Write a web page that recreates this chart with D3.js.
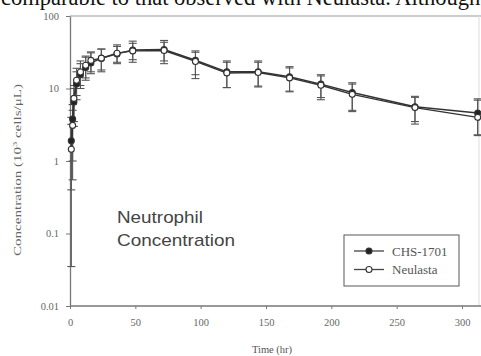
<!DOCTYPE html>
<html><head><meta charset="utf-8">
<script src="https://cdn.jsdelivr.net/npm/d3@7"></script>
<style>body{margin:0;background:#fff}svg{display:block}</style>
</head><body>
<svg id="c" width="481" height="356"></svg>
<script>
const times = [1, 2, 3, 5, 8, 12, 16, 24, 36, 48, 72, 96, 120, 144, 168, 192, 216, 264, 312];
const neulasta = [1.45, 3.1, 7.3, 13, 16.9, 20.9, 24.4, 26.2, 30.7, 33, 33.4, 23.6, 16.4, 16.6, 14, 11.1, 8.3, 5.45, 4.0];
const neulastaHigh = [3.2, 5, 11, 19, 24, 28, 32, 35, 40, 42, 43.4, 31.6, 23, 23, 19.2, 14.9, 11.5, 7.55, 6.9];
const neulastaLow = [0.035, 0.55, 3.5, 8, 11, 14, 17, 18, 22, 23, 22, 15.5, 10.3, 10.5, 9, 7.5, 5, 3.5, 2.3];
const chs = [1.9, 3.8, 6.5, 11.5, 15.5, 19.5, 22.5, 26, 30, 34, 34.5, 24.5, 17, 17, 14.5, 11.5, 8.8, 5.6, 4.6];
const chsHigh = [4, 6, 10, 17, 22, 27, 31, 35, 38, 45, 46, 33, 24, 24, 20, 15.5, 12, 7.8, 7.2];
const chsLow = [0.4, 1.0, 3, 7, 10, 13, 16, 17, 23, 25, 24, 13.7, 10.3, 10.8, 9.2, 7, 4.8, 3.23, 2.24];
const xTicks = [0, 50, 100, 150, 200, 250, 300];
const yTicks = [0.01, 0.1, 1, 10, 100];
const yTickLabels = ["0.01", "0.1", "1", "10", "100"];
const seriesNames = ["CHS-1701", "Neulasta"];
const topText = "comparable to that observed with Neulasta. Although";
const annot = ["Neutrophil", "Concentration"];

const svg = d3.select("#c");
const x = d3.scaleLinear().domain([0, 313]).range([70, 479]);
const y = d3.scaleLog().domain([0.01, 100]).range([306, 16]);
const serif = "'Liberation Serif','Times New Roman',serif";

// top document text (cut off at the top edge, as in the source page)
svg.append("text").attr("x", 1).attr("y", 5).attr("font-family", serif)
  .attr("font-size", 22.5).attr("fill", "#111").text(topText);

// frame lines
svg.append("line").attr("x1", 70).attr("x2", 481).attr("y1", 16).attr("y2", 16)
  .attr("stroke", "#999").attr("stroke-width", 1.2);
svg.append("line").attr("x1", 479).attr("x2", 479).attr("y1", 16).attr("y2", 306)
  .attr("stroke", "#ddd").attr("stroke-width", 1);

// axes
const xAxis = svg.append("g").attr("transform", "translate(0,306)")
  .call(d3.axisBottom(x).tickValues(xTicks).tickSize(3).tickPadding(10).tickSizeOuter(0));
xAxis.select(".domain").attr("d", "M70,0H481");
const yAxis = svg.append("g").attr("transform", "translate(70,0)")
  .call(d3.axisLeft(y).tickValues(yTicks).tickFormat((d, i) => yTickLabels[i]).tickSize(4).tickPadding(7).tickSizeOuter(0));
svg.selectAll(".domain").attr("stroke", "#777").attr("stroke-width", 1.3);
svg.selectAll(".tick line").attr("stroke", "#777");
svg.selectAll(".tick text").attr("font-family", serif).attr("font-size", 10.5).attr("fill", "#666");

// axis titles
svg.append("text").attr("x", 272).attr("y", 353).attr("text-anchor", "middle")
  .attr("font-family", serif).attr("font-size", 10.5).attr("fill", "#555").text("Time (hr)");
const yl = svg.append("text").attr("transform", "translate(21,170) rotate(-90)").attr("text-anchor", "middle")
  .attr("font-family", serif).attr("font-size", 10.5).attr("fill", "#666")
  .attr("textLength", 172).attr("lengthAdjust", "spacingAndGlyphs");
yl.append("tspan").text("Concentration  (10");
yl.append("tspan").attr("font-size", 7).attr("dy", -4).text("3");
yl.append("tspan").attr("dy", 4).text(" cells/μL)");

// annotation
annot.forEach((t, i) => {
  svg.append("text").attr("x", 117).attr("y", 223 + i * 22.5)
    .attr("font-family", "'Liberation Sans',Arial,sans-serif").attr("font-size", 17)
    .attr("fill", "#444").attr("textLength", i === 0 ? 86 : 118)
    .attr("lengthAdjust", "spacingAndGlyphs").text(t);
});

const series = [
  {vals: chs, hi: chsHigh, lo: chsLow, fill: "#222"},
  {vals: neulasta, hi: neulastaHigh, lo: neulastaLow, fill: "#fff"}
];

// error bars
series.forEach(s => {
  const g = svg.append("g").attr("stroke", "#555").attr("stroke-width", 1.1);
  times.forEach((t, i) => {
    const cx = x(t);
    g.append("line").attr("x1", cx).attr("x2", cx).attr("y1", y(s.hi[i])).attr("y2", y(s.lo[i]));
    g.append("line").attr("x1", cx - 4).attr("x2", cx + 4).attr("y1", y(s.hi[i])).attr("y2", y(s.hi[i]));
    g.append("line").attr("x1", cx - 4).attr("x2", cx + 4).attr("y1", y(s.lo[i])).attr("y2", y(s.lo[i]));
  });
});

// lines
const line = d3.line().x((d, i) => x(times[i])).y(d => y(d));
series.forEach(s => {
  svg.append("path").attr("d", line(s.vals)).attr("fill", "none")
    .attr("stroke", "#333").attr("stroke-width", 1.4);
});
// markers
series.forEach(s => {
  svg.append("g").selectAll("circle").data(s.vals).join("circle")
    .attr("cx", (d, i) => x(times[i])).attr("cy", d => y(d)).attr("r", 3)
    .attr("fill", s.fill).attr("stroke", "#333").attr("stroke-width", 1.1);
});

// legend
svg.append("rect").attr("x", 344).attr("y", 235).attr("width", 115).attr("height", 51)
  .attr("fill", "#fff").attr("stroke", "#666").attr("stroke-width", 1.1);
seriesNames.forEach((n, i) => {
  const ly = 251 + i * 18.5;
  svg.append("line").attr("x1", 354).attr("x2", 384).attr("y1", ly).attr("y2", ly)
    .attr("stroke", "#444").attr("stroke-width", 1.3);
  svg.append("circle").attr("cx", 369).attr("cy", ly).attr("r", 3)
    .attr("fill", series[i].fill).attr("stroke", "#333").attr("stroke-width", 1.1);
  svg.append("text").attr("x", 392).attr("y", ly + 4.5).attr("font-family", serif)
    .attr("font-size", 13).attr("fill", "#555").text(n);
});
</script>
</body></html>
